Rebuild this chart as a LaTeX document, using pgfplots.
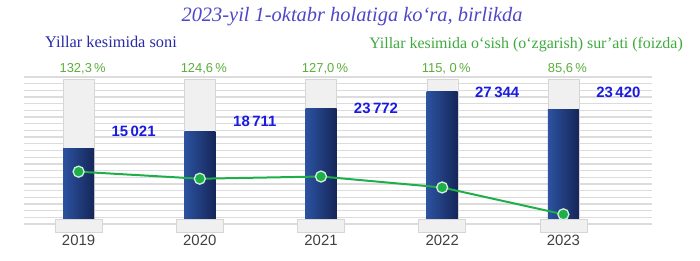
\documentclass[border=0pt]{standalone}
\usepackage{fontspec}
\setmainfont{Liberation Serif}
\newfontfamily\arial{Liberation Sans}
\usepackage{pgfplots}
\pgfplotsset{compat=1.18}
\definecolor{titlec}{HTML}{5046C8}
\definecolor{leftc}{HTML}{2A2AA8}
\definecolor{greenc}{HTML}{3DAA3D}
\definecolor{pctc}{HTML}{5AAE3C}
\definecolor{valc}{HTML}{1A1AE0}
\definecolor{barL}{HTML}{2C52A0}
\definecolor{barR}{HTML}{152659}
\definecolor{linec}{HTML}{1FAF4A}
\definecolor{gridc}{HTML}{DCDCDC}
\definecolor{bgbar}{HTML}{F0F0F0}
\definecolor{bgedge}{HTML}{D6D6D6}
\definecolor{yearc}{HTML}{404040}
\begin{document}
\begin{tikzpicture}
\path[use as bounding box] (0,0) rectangle (700bp,261bp);
\pgfplotsset{
  base/.style={at={(24bp,37bp)}, anchor=south west, scale only axis,
    width=628bp, height=147bp, xmin=2018.5495, xmax=2023.731,
    axis line style={draw=none}, tick style={draw=none}, clip=false},
  bluebar/.style={ybar, bar shift=0pt, bar width=31bp, draw=none,
    left color=barL, right color=barR}
}
% background grid
\begin{axis}[base, ymin=0, ymax=22, ytick={0,1,...,22}, yticklabels={}, xtick=\empty,
  ymajorgrids, grid style={gridc, line width=1.3bp}]
\end{axis}
% bars
\begin{axis}[base, ymin=-1071, ymax=30429, ytick=\empty,
  xtick={2019,2020,2021,2022,2023},
  xticklabels={2019,2020,2021,2022,2023},
  xticklabel style={anchor=center, yshift=-16bp, text=yearc,
    font=\arial\fontsize{15}{15}\selectfont}]
\addplot[ybar, bar shift=0pt, bar width=31bp, fill=bgbar, draw=bgedge]
  coordinates {(2019,30000) (2020,30000) (2021,30000) (2022,30000) (2023,30000)};
\addplot[bluebar] coordinates {(2019,15021)};
\addplot[bluebar] coordinates {(2020,18711)};
\addplot[bluebar] coordinates {(2021,23772)};
\addplot[bluebar] coordinates {(2022,27344)};
\addplot[bluebar] coordinates {(2023,23420)};
\pgfplotsinvokeforeach{2019,2020,2021,2022,2023}{
  \draw[bgedge, fill=bgbar, line width=0.8bp] ([xshift=-23.5bp]axis cs:#1,0) rectangle ([xshift=23.5bp,yshift=-13bp]axis cs:#1,0);
}
\begin{scope}[every node/.style={text=valc, font=\arial\bfseries\fontsize{15}{15}\selectfont}]
\node at ([xshift=55bp]axis cs:2019,18860) {15\,021};
\node at ([xshift=55bp]axis cs:2020,21000) {18\,711};
\node at ([xshift=55bp]axis cs:2021,23790) {23\,772};
\node at ([xshift=55bp]axis cs:2022,27220) {27\,344};
\node at ([xshift=55bp]axis cs:2023,27220) {23\,420};
\end{scope}
\begin{scope}[every node/.style={text=pctc, font=\arial\fontsize{13}{13}\selectfont}]
\node at ([xshift=4bp]axis cs:2019,32145) {132,3\,\%};
\node at ([xshift=4bp]axis cs:2020,32145) {124,6\,\%};
\node at ([xshift=4bp]axis cs:2021,32145) {127,0\,\%};
\node at ([xshift=4bp]axis cs:2022,32145) {115, 0\,\%};
\node at ([xshift=4bp]axis cs:2023,32145) {85,6\,\%};
\end{scope}
\end{axis}
% line
\begin{axis}[base, ymin=75, ymax=236, xtick=\empty, ytick=\empty]
\addplot[linec, line width=2bp, mark=*, mark size=5.5bp,
  mark options={fill=linec, draw=white!80!linec, line width=1.3bp}]
  coordinates {(2019,132.3) (2020,124.6) (2021,127.0) (2022,115.0) (2023,85.6)};
\end{axis}
\node[text=titlec, font=\itshape\fontsize{20.5}{20.5}\selectfont] at (352bp,244bp) {2023-yil 1-oktabr holatiga ko‘ra, birlikda};
\node[text=leftc, anchor=west, inner sep=0pt, font=\fontsize{16.4}{16.4}\selectfont] at (45bp,219bp) {Yillar kesimida soni};
\node[text=greenc, anchor=east, inner sep=0pt, font=\fontsize{16}{16}\selectfont] at (683bp,216bp) {Yillar kesimida o‘sish (o‘zgarish) sur’ati (foizda)};
\end{tikzpicture}
\end{document}
